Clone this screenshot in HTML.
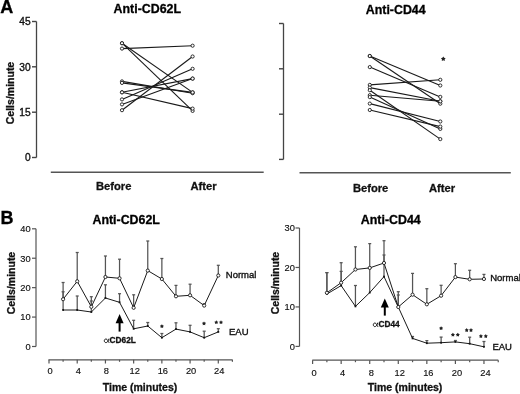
<!DOCTYPE html>
<html><head><meta charset="utf-8"><style>
html,body{margin:0;padding:0;background:#fff;}
body{width:520px;height:394px;overflow:hidden;font-family:"Liberation Sans", sans-serif;}
svg{display:block;filter:grayscale(1) blur(0.3px);}
</style></head><body>
<svg width="520" height="394" viewBox="0 0 520 394">
<rect width="520" height="394" fill="#fff"/>
<text x="0.3" y="12.6" font-family="Liberation Sans, sans-serif" font-size="18" font-weight="bold" text-anchor="start" fill="#000" stroke="#000" stroke-width="0.3" >A</text>
<text x="0.4" y="223.8" font-family="Liberation Sans, sans-serif" font-size="18" font-weight="bold" text-anchor="start" fill="#000" stroke="#000" stroke-width="0.3" >B</text>
<text x="147.3" y="12.5" font-family="Liberation Sans, sans-serif" font-size="12.4" font-weight="bold" text-anchor="middle" fill="#000" stroke="#000" stroke-width="0.3" >Anti-CD62L</text>
<line x1="36.5" y1="21.5" x2="36.5" y2="157.5" stroke="#444" stroke-width="1.3"/>
<line x1="32" y1="21.5" x2="36.5" y2="21.5" stroke="#444" stroke-width="1.4"/>
<text x="30.6" y="25.3" font-family="Liberation Sans, sans-serif" font-size="10.2" font-weight="normal" text-anchor="end" fill="#111" stroke="#111" stroke-width="0.35" >45</text>
<line x1="32" y1="66.8" x2="36.5" y2="66.8" stroke="#444" stroke-width="1.4"/>
<text x="30.6" y="70.6" font-family="Liberation Sans, sans-serif" font-size="10.2" font-weight="normal" text-anchor="end" fill="#111" stroke="#111" stroke-width="0.35" >30</text>
<line x1="32" y1="112.2" x2="36.5" y2="112.2" stroke="#444" stroke-width="1.4"/>
<text x="30.6" y="116.0" font-family="Liberation Sans, sans-serif" font-size="10.2" font-weight="normal" text-anchor="end" fill="#111" stroke="#111" stroke-width="0.35" >15</text>
<line x1="32" y1="157.5" x2="36.5" y2="157.5" stroke="#444" stroke-width="1.4"/>
<text x="30.6" y="161.3" font-family="Liberation Sans, sans-serif" font-size="10.2" font-weight="normal" text-anchor="end" fill="#111" stroke="#111" stroke-width="0.35" >0</text>
<text x="0" y="0" font-family="Liberation Sans, sans-serif" font-size="10.5" font-weight="bold" text-anchor="middle" fill="#111" stroke="#111" stroke-width="0.3" transform="translate(14.2,93) rotate(-90)">Cells/minute</text>
<line x1="50.8" y1="172.3" x2="263.7" y2="172.3" stroke="#555" stroke-width="1.4"/>
<text x="113.7" y="189.8" font-family="Liberation Sans, sans-serif" font-size="11.2" font-weight="bold" text-anchor="middle" fill="#111" stroke="#111" stroke-width="0.3" >Before</text>
<text x="203.6" y="189.8" font-family="Liberation Sans, sans-serif" font-size="11.2" font-weight="bold" text-anchor="middle" fill="#111" stroke="#111" stroke-width="0.3" >After</text>
<line x1="122" y1="48.6" x2="192.6" y2="45.7" stroke="#1a1a1a" stroke-width="1.1"/>
<line x1="122" y1="43.2" x2="192.6" y2="92.4" stroke="#1a1a1a" stroke-width="1.1"/>
<line x1="122" y1="43.2" x2="192.6" y2="110.9" stroke="#1a1a1a" stroke-width="1.1"/>
<line x1="122" y1="81.4" x2="192.6" y2="93.2" stroke="#1a1a1a" stroke-width="1.1"/>
<line x1="122" y1="82.9" x2="192.6" y2="92.4" stroke="#1a1a1a" stroke-width="1.1"/>
<line x1="122" y1="92.3" x2="192.6" y2="108.6" stroke="#1a1a1a" stroke-width="1.1"/>
<line x1="122" y1="92.3" x2="192.6" y2="78.6" stroke="#1a1a1a" stroke-width="1.1"/>
<line x1="122" y1="99.4" x2="192.6" y2="68.8" stroke="#1a1a1a" stroke-width="1.1"/>
<line x1="122" y1="104.4" x2="192.6" y2="78.6" stroke="#1a1a1a" stroke-width="1.1"/>
<line x1="122" y1="110.2" x2="192.6" y2="56.5" stroke="#1a1a1a" stroke-width="1.1"/>
<circle cx="122.00" cy="48.60" r="1.6" fill="#fff" stroke="#1a1a1a" stroke-width="0.9"/>
<circle cx="192.60" cy="45.70" r="1.6" fill="#fff" stroke="#1a1a1a" stroke-width="0.9"/>
<circle cx="122.00" cy="43.20" r="1.6" fill="#fff" stroke="#1a1a1a" stroke-width="0.9"/>
<circle cx="192.60" cy="92.40" r="1.6" fill="#fff" stroke="#1a1a1a" stroke-width="0.9"/>
<circle cx="122.00" cy="43.20" r="1.6" fill="#fff" stroke="#1a1a1a" stroke-width="0.9"/>
<circle cx="192.60" cy="110.90" r="1.6" fill="#fff" stroke="#1a1a1a" stroke-width="0.9"/>
<circle cx="122.00" cy="81.40" r="1.6" fill="#fff" stroke="#1a1a1a" stroke-width="0.9"/>
<circle cx="192.60" cy="93.20" r="1.6" fill="#fff" stroke="#1a1a1a" stroke-width="0.9"/>
<circle cx="122.00" cy="82.90" r="1.6" fill="#fff" stroke="#1a1a1a" stroke-width="0.9"/>
<circle cx="192.60" cy="92.40" r="1.6" fill="#fff" stroke="#1a1a1a" stroke-width="0.9"/>
<circle cx="122.00" cy="92.30" r="1.6" fill="#fff" stroke="#1a1a1a" stroke-width="0.9"/>
<circle cx="192.60" cy="108.60" r="1.6" fill="#fff" stroke="#1a1a1a" stroke-width="0.9"/>
<circle cx="122.00" cy="92.30" r="1.6" fill="#fff" stroke="#1a1a1a" stroke-width="0.9"/>
<circle cx="192.60" cy="78.60" r="1.6" fill="#fff" stroke="#1a1a1a" stroke-width="0.9"/>
<circle cx="122.00" cy="99.40" r="1.6" fill="#fff" stroke="#1a1a1a" stroke-width="0.9"/>
<circle cx="192.60" cy="68.80" r="1.6" fill="#fff" stroke="#1a1a1a" stroke-width="0.9"/>
<circle cx="122.00" cy="104.40" r="1.6" fill="#fff" stroke="#1a1a1a" stroke-width="0.9"/>
<circle cx="192.60" cy="78.60" r="1.6" fill="#fff" stroke="#1a1a1a" stroke-width="0.9"/>
<circle cx="122.00" cy="110.20" r="1.6" fill="#fff" stroke="#1a1a1a" stroke-width="0.9"/>
<circle cx="192.60" cy="56.50" r="1.6" fill="#fff" stroke="#1a1a1a" stroke-width="0.9"/>
<text x="395.7" y="13.7" font-family="Liberation Sans, sans-serif" font-size="12.4" font-weight="bold" text-anchor="middle" fill="#000" stroke="#000" stroke-width="0.3" >Anti-CD44</text>
<line x1="283.5" y1="23.5" x2="283.5" y2="159.4" stroke="#444" stroke-width="1.3"/>
<line x1="279" y1="23.5" x2="283.5" y2="23.5" stroke="#444" stroke-width="1.4"/>
<line x1="279" y1="68.8" x2="283.5" y2="68.8" stroke="#444" stroke-width="1.4"/>
<line x1="279" y1="114.2" x2="283.5" y2="114.2" stroke="#444" stroke-width="1.4"/>
<line x1="279" y1="159.4" x2="283.5" y2="159.4" stroke="#444" stroke-width="1.4"/>
<line x1="299.5" y1="172.7" x2="510.8" y2="172.7" stroke="#555" stroke-width="1.4"/>
<text x="370.6" y="191.7" font-family="Liberation Sans, sans-serif" font-size="11.2" font-weight="bold" text-anchor="middle" fill="#111" stroke="#111" stroke-width="0.3" >Before</text>
<text x="442.1" y="191.7" font-family="Liberation Sans, sans-serif" font-size="11.2" font-weight="bold" text-anchor="middle" fill="#111" stroke="#111" stroke-width="0.3" >After</text>
<line x1="369.8" y1="56" x2="440.3" y2="85.5" stroke="#1a1a1a" stroke-width="1.1"/>
<line x1="369.8" y1="56" x2="440.3" y2="103.7" stroke="#1a1a1a" stroke-width="1.1"/>
<line x1="369.8" y1="67.1" x2="440.3" y2="96.9" stroke="#1a1a1a" stroke-width="1.1"/>
<line x1="369.8" y1="84.9" x2="440.3" y2="79.8" stroke="#1a1a1a" stroke-width="1.1"/>
<line x1="369.8" y1="87.6" x2="440.3" y2="101.3" stroke="#1a1a1a" stroke-width="1.1"/>
<line x1="369.8" y1="90.2" x2="440.3" y2="139.1" stroke="#1a1a1a" stroke-width="1.1"/>
<line x1="369.8" y1="95.2" x2="440.3" y2="101.3" stroke="#1a1a1a" stroke-width="1.1"/>
<line x1="369.8" y1="97.1" x2="440.3" y2="128.9" stroke="#1a1a1a" stroke-width="1.1"/>
<line x1="369.8" y1="103.6" x2="440.3" y2="121.5" stroke="#1a1a1a" stroke-width="1.1"/>
<line x1="369.8" y1="110" x2="440.3" y2="126.6" stroke="#1a1a1a" stroke-width="1.1"/>
<circle cx="369.80" cy="56.00" r="1.6" fill="#fff" stroke="#1a1a1a" stroke-width="0.9"/>
<circle cx="440.30" cy="85.50" r="1.6" fill="#fff" stroke="#1a1a1a" stroke-width="0.9"/>
<circle cx="369.80" cy="56.00" r="1.6" fill="#fff" stroke="#1a1a1a" stroke-width="0.9"/>
<circle cx="440.30" cy="103.70" r="1.6" fill="#fff" stroke="#1a1a1a" stroke-width="0.9"/>
<circle cx="369.80" cy="67.10" r="1.6" fill="#fff" stroke="#1a1a1a" stroke-width="0.9"/>
<circle cx="440.30" cy="96.90" r="1.6" fill="#fff" stroke="#1a1a1a" stroke-width="0.9"/>
<circle cx="369.80" cy="84.90" r="1.6" fill="#fff" stroke="#1a1a1a" stroke-width="0.9"/>
<circle cx="440.30" cy="79.80" r="1.6" fill="#fff" stroke="#1a1a1a" stroke-width="0.9"/>
<circle cx="369.80" cy="87.60" r="1.6" fill="#fff" stroke="#1a1a1a" stroke-width="0.9"/>
<circle cx="440.30" cy="101.30" r="1.6" fill="#fff" stroke="#1a1a1a" stroke-width="0.9"/>
<circle cx="369.80" cy="90.20" r="1.6" fill="#fff" stroke="#1a1a1a" stroke-width="0.9"/>
<circle cx="440.30" cy="139.10" r="1.6" fill="#fff" stroke="#1a1a1a" stroke-width="0.9"/>
<circle cx="369.80" cy="95.20" r="1.6" fill="#fff" stroke="#1a1a1a" stroke-width="0.9"/>
<circle cx="440.30" cy="101.30" r="1.6" fill="#fff" stroke="#1a1a1a" stroke-width="0.9"/>
<circle cx="369.80" cy="97.10" r="1.6" fill="#fff" stroke="#1a1a1a" stroke-width="0.9"/>
<circle cx="440.30" cy="128.90" r="1.6" fill="#fff" stroke="#1a1a1a" stroke-width="0.9"/>
<circle cx="369.80" cy="103.60" r="1.6" fill="#fff" stroke="#1a1a1a" stroke-width="0.9"/>
<circle cx="440.30" cy="121.50" r="1.6" fill="#fff" stroke="#1a1a1a" stroke-width="0.9"/>
<circle cx="369.80" cy="110.00" r="1.6" fill="#fff" stroke="#1a1a1a" stroke-width="0.9"/>
<circle cx="440.30" cy="126.60" r="1.6" fill="#fff" stroke="#1a1a1a" stroke-width="0.9"/>
<polygon points="443.30,56.40 444.15,57.73 445.68,58.13 444.68,59.35 444.77,60.92 443.30,60.35 441.83,60.92 441.92,59.35 440.92,58.13 442.45,57.73" fill="#222"/>
<text x="126.2" y="223.8" font-family="Liberation Sans, sans-serif" font-size="12.4" font-weight="bold" text-anchor="middle" fill="#000" stroke="#000" stroke-width="0.3" >Anti-CD62L</text>
<line x1="36" y1="228.8" x2="36" y2="346.5" stroke="#555" stroke-width="1.2"/>
<line x1="32" y1="346.5" x2="36" y2="346.5" stroke="#555" stroke-width="1.2"/>
<text x="30.6" y="349.8" font-family="Liberation Sans, sans-serif" font-size="9.3" font-weight="normal" text-anchor="end" fill="#111" stroke="#111" stroke-width="0.15" >0</text>
<line x1="32" y1="317.075" x2="36" y2="317.075" stroke="#555" stroke-width="1.2"/>
<text x="30.6" y="320.375" font-family="Liberation Sans, sans-serif" font-size="9.3" font-weight="normal" text-anchor="end" fill="#111" stroke="#111" stroke-width="0.15" >10</text>
<line x1="32" y1="287.65" x2="36" y2="287.65" stroke="#555" stroke-width="1.2"/>
<text x="30.6" y="290.95" font-family="Liberation Sans, sans-serif" font-size="9.3" font-weight="normal" text-anchor="end" fill="#111" stroke="#111" stroke-width="0.15" >20</text>
<line x1="32" y1="258.225" x2="36" y2="258.225" stroke="#555" stroke-width="1.2"/>
<text x="30.6" y="261.52500000000003" font-family="Liberation Sans, sans-serif" font-size="9.3" font-weight="normal" text-anchor="end" fill="#111" stroke="#111" stroke-width="0.15" >30</text>
<line x1="32" y1="228.8" x2="36" y2="228.8" stroke="#555" stroke-width="1.2"/>
<text x="30.6" y="232.10000000000002" font-family="Liberation Sans, sans-serif" font-size="9.3" font-weight="normal" text-anchor="end" fill="#111" stroke="#111" stroke-width="0.15" >40</text>
<text x="0" y="0" font-family="Liberation Sans, sans-serif" font-size="10.5" font-weight="bold" text-anchor="middle" fill="#111" stroke="#111" stroke-width="0.3" transform="translate(15.2,283) rotate(-90)">Cells/minute</text>
<line x1="48.5" y1="359.8" x2="232.6" y2="359.8" stroke="#555" stroke-width="1.2"/>
<line x1="49.0" y1="359.8" x2="49.0" y2="363.5" stroke="#555" stroke-width="1.2"/>
<text x="50.0" y="373.9" font-family="Liberation Sans, sans-serif" font-size="9.3" font-weight="normal" text-anchor="middle" fill="#111" stroke="#111" stroke-width="0.15" >0</text>
<line x1="63.108000000000004" y1="359.8" x2="63.108000000000004" y2="361.8" stroke="#555" stroke-width="1.2"/>
<line x1="77.21600000000001" y1="359.8" x2="77.21600000000001" y2="363.5" stroke="#555" stroke-width="1.2"/>
<text x="78.21600000000001" y="373.9" font-family="Liberation Sans, sans-serif" font-size="9.3" font-weight="normal" text-anchor="middle" fill="#111" stroke="#111" stroke-width="0.15" >4</text>
<line x1="91.324" y1="359.8" x2="91.324" y2="361.8" stroke="#555" stroke-width="1.2"/>
<line x1="105.432" y1="359.8" x2="105.432" y2="363.5" stroke="#555" stroke-width="1.2"/>
<text x="106.432" y="373.9" font-family="Liberation Sans, sans-serif" font-size="9.3" font-weight="normal" text-anchor="middle" fill="#111" stroke="#111" stroke-width="0.15" >8</text>
<line x1="119.54" y1="359.8" x2="119.54" y2="361.8" stroke="#555" stroke-width="1.2"/>
<line x1="133.648" y1="359.8" x2="133.648" y2="363.5" stroke="#555" stroke-width="1.2"/>
<text x="134.648" y="373.9" font-family="Liberation Sans, sans-serif" font-size="9.3" font-weight="normal" text-anchor="middle" fill="#111" stroke="#111" stroke-width="0.15" >12</text>
<line x1="147.756" y1="359.8" x2="147.756" y2="361.8" stroke="#555" stroke-width="1.2"/>
<line x1="161.864" y1="359.8" x2="161.864" y2="363.5" stroke="#555" stroke-width="1.2"/>
<text x="162.864" y="373.9" font-family="Liberation Sans, sans-serif" font-size="9.3" font-weight="normal" text-anchor="middle" fill="#111" stroke="#111" stroke-width="0.15" >16</text>
<line x1="175.972" y1="359.8" x2="175.972" y2="361.8" stroke="#555" stroke-width="1.2"/>
<line x1="190.08" y1="359.8" x2="190.08" y2="363.5" stroke="#555" stroke-width="1.2"/>
<text x="191.08" y="373.9" font-family="Liberation Sans, sans-serif" font-size="9.3" font-weight="normal" text-anchor="middle" fill="#111" stroke="#111" stroke-width="0.15" >20</text>
<line x1="204.18800000000002" y1="359.8" x2="204.18800000000002" y2="361.8" stroke="#555" stroke-width="1.2"/>
<line x1="218.296" y1="359.8" x2="218.296" y2="363.5" stroke="#555" stroke-width="1.2"/>
<text x="219.296" y="373.9" font-family="Liberation Sans, sans-serif" font-size="9.3" font-weight="normal" text-anchor="middle" fill="#111" stroke="#111" stroke-width="0.15" >24</text>
<line x1="232.404" y1="359.8" x2="232.404" y2="361.8" stroke="#555" stroke-width="1.2"/>
<text x="140" y="391.1" font-family="Liberation Sans, sans-serif" font-size="10.5" font-weight="bold" text-anchor="middle" fill="#111" stroke="#111" stroke-width="0.3" >Time (minutes)</text>
<line x1="63.108000000000004" y1="299.2" x2="63.108000000000004" y2="282.5" stroke="#555" stroke-width="1.25"/>
<line x1="61.608000000000004" y1="282.5" x2="64.608" y2="282.5" stroke="#555" stroke-width="1.25"/>
<line x1="77.21600000000001" y1="281.3" x2="77.21600000000001" y2="252.5" stroke="#555" stroke-width="1.25"/>
<line x1="75.71600000000001" y1="252.5" x2="78.71600000000001" y2="252.5" stroke="#555" stroke-width="1.25"/>
<line x1="91.324" y1="306.8" x2="91.324" y2="296.7" stroke="#555" stroke-width="1.25"/>
<line x1="89.824" y1="296.7" x2="92.824" y2="296.7" stroke="#555" stroke-width="1.25"/>
<line x1="105.432" y1="277" x2="105.432" y2="256" stroke="#555" stroke-width="1.25"/>
<line x1="103.932" y1="256" x2="106.932" y2="256" stroke="#555" stroke-width="1.25"/>
<line x1="119.54" y1="278.3" x2="119.54" y2="259.2" stroke="#555" stroke-width="1.25"/>
<line x1="118.04" y1="259.2" x2="121.04" y2="259.2" stroke="#555" stroke-width="1.25"/>
<line x1="133.648" y1="307.8" x2="133.648" y2="294.8" stroke="#555" stroke-width="1.25"/>
<line x1="132.148" y1="294.8" x2="135.148" y2="294.8" stroke="#555" stroke-width="1.25"/>
<line x1="147.756" y1="270.6" x2="147.756" y2="241" stroke="#555" stroke-width="1.25"/>
<line x1="146.256" y1="241" x2="149.256" y2="241" stroke="#555" stroke-width="1.25"/>
<line x1="161.864" y1="279" x2="161.864" y2="258.5" stroke="#555" stroke-width="1.25"/>
<line x1="160.364" y1="258.5" x2="163.364" y2="258.5" stroke="#555" stroke-width="1.25"/>
<line x1="175.972" y1="296.3" x2="175.972" y2="285.4" stroke="#555" stroke-width="1.25"/>
<line x1="174.472" y1="285.4" x2="177.472" y2="285.4" stroke="#555" stroke-width="1.25"/>
<line x1="190.08" y1="295.3" x2="190.08" y2="284.2" stroke="#555" stroke-width="1.25"/>
<line x1="188.58" y1="284.2" x2="191.58" y2="284.2" stroke="#555" stroke-width="1.25"/>
<line x1="204.18800000000002" y1="305.6" x2="204.18800000000002" y2="303.8" stroke="#555" stroke-width="1.25"/>
<line x1="202.68800000000002" y1="303.8" x2="205.68800000000002" y2="303.8" stroke="#555" stroke-width="1.25"/>
<line x1="218.296" y1="275.5" x2="218.296" y2="265.3" stroke="#555" stroke-width="1.25"/>
<line x1="216.796" y1="265.3" x2="219.796" y2="265.3" stroke="#555" stroke-width="1.25"/>
<line x1="63.108000000000004" y1="310" x2="63.108000000000004" y2="291.8" stroke="#555" stroke-width="1.25"/>
<line x1="61.608000000000004" y1="291.8" x2="64.608" y2="291.8" stroke="#555" stroke-width="1.25"/>
<line x1="77.21600000000001" y1="310" x2="77.21600000000001" y2="296" stroke="#555" stroke-width="1.25"/>
<line x1="75.71600000000001" y1="296" x2="78.71600000000001" y2="296" stroke="#555" stroke-width="1.25"/>
<line x1="91.324" y1="312" x2="91.324" y2="301" stroke="#555" stroke-width="1.25"/>
<line x1="89.824" y1="301" x2="92.824" y2="301" stroke="#555" stroke-width="1.25"/>
<line x1="105.432" y1="298" x2="105.432" y2="284.8" stroke="#555" stroke-width="1.25"/>
<line x1="103.932" y1="284.8" x2="106.932" y2="284.8" stroke="#555" stroke-width="1.25"/>
<line x1="119.54" y1="302.3" x2="119.54" y2="293.7" stroke="#555" stroke-width="1.25"/>
<line x1="118.04" y1="293.7" x2="121.04" y2="293.7" stroke="#555" stroke-width="1.25"/>
<line x1="133.648" y1="328.8" x2="133.648" y2="320.3" stroke="#555" stroke-width="1.25"/>
<line x1="132.148" y1="320.3" x2="135.148" y2="320.3" stroke="#555" stroke-width="1.25"/>
<line x1="147.756" y1="326" x2="147.756" y2="322.5" stroke="#555" stroke-width="1.25"/>
<line x1="146.256" y1="322.5" x2="149.256" y2="322.5" stroke="#555" stroke-width="1.25"/>
<line x1="161.864" y1="337.7" x2="161.864" y2="333.5" stroke="#555" stroke-width="1.25"/>
<line x1="160.364" y1="333.5" x2="163.364" y2="333.5" stroke="#555" stroke-width="1.25"/>
<line x1="175.972" y1="329.1" x2="175.972" y2="322.8" stroke="#555" stroke-width="1.25"/>
<line x1="174.472" y1="322.8" x2="177.472" y2="322.8" stroke="#555" stroke-width="1.25"/>
<line x1="190.08" y1="331.9" x2="190.08" y2="325.3" stroke="#555" stroke-width="1.25"/>
<line x1="188.58" y1="325.3" x2="191.58" y2="325.3" stroke="#555" stroke-width="1.25"/>
<line x1="204.18800000000002" y1="337.7" x2="204.18800000000002" y2="331.2" stroke="#555" stroke-width="1.25"/>
<line x1="202.68800000000002" y1="331.2" x2="205.68800000000002" y2="331.2" stroke="#555" stroke-width="1.25"/>
<line x1="218.296" y1="331.9" x2="218.296" y2="328.7" stroke="#555" stroke-width="1.25"/>
<line x1="216.796" y1="328.7" x2="219.796" y2="328.7" stroke="#555" stroke-width="1.25"/>
<polyline points="63.11,310.00 77.22,310.00 91.32,312.00 105.43,298.00 119.54,302.30 133.65,328.80 147.76,326.00 161.86,337.70 175.97,329.10 190.08,331.90 204.19,337.70 218.30,331.90" fill="none" stroke="#1a1a1a" stroke-width="1" stroke-linejoin="round"/>
<polyline points="63.11,299.20 77.22,281.30 91.32,306.80 105.43,277.00 119.54,278.30 133.65,307.80 147.76,270.60 161.86,279.00 175.97,296.30 190.08,295.30 204.19,305.60 218.30,275.50" fill="none" stroke="#1a1a1a" stroke-width="1" stroke-linejoin="round"/>
<rect x="62.21" y="309.10" width="1.8" height="1.8" fill="#111"/>
<rect x="76.32" y="309.10" width="1.8" height="1.8" fill="#111"/>
<rect x="90.42" y="311.10" width="1.8" height="1.8" fill="#111"/>
<rect x="104.53" y="297.10" width="1.8" height="1.8" fill="#111"/>
<rect x="118.64" y="301.40" width="1.8" height="1.8" fill="#111"/>
<rect x="132.75" y="327.90" width="1.8" height="1.8" fill="#111"/>
<rect x="146.86" y="325.10" width="1.8" height="1.8" fill="#111"/>
<rect x="160.96" y="336.80" width="1.8" height="1.8" fill="#111"/>
<rect x="175.07" y="328.20" width="1.8" height="1.8" fill="#111"/>
<rect x="189.18" y="331.00" width="1.8" height="1.8" fill="#111"/>
<rect x="203.29" y="336.80" width="1.8" height="1.8" fill="#111"/>
<rect x="217.40" y="331.00" width="1.8" height="1.8" fill="#111"/>
<circle cx="63.11" cy="299.20" r="1.6" fill="#fff" stroke="#1a1a1a" stroke-width="0.9"/>
<circle cx="77.22" cy="281.30" r="1.6" fill="#fff" stroke="#1a1a1a" stroke-width="0.9"/>
<circle cx="91.32" cy="306.80" r="1.6" fill="#fff" stroke="#1a1a1a" stroke-width="0.9"/>
<circle cx="105.43" cy="277.00" r="1.6" fill="#fff" stroke="#1a1a1a" stroke-width="0.9"/>
<circle cx="119.54" cy="278.30" r="1.6" fill="#fff" stroke="#1a1a1a" stroke-width="0.9"/>
<circle cx="133.65" cy="307.80" r="1.6" fill="#fff" stroke="#1a1a1a" stroke-width="0.9"/>
<circle cx="147.76" cy="270.60" r="1.6" fill="#fff" stroke="#1a1a1a" stroke-width="0.9"/>
<circle cx="161.86" cy="279.00" r="1.6" fill="#fff" stroke="#1a1a1a" stroke-width="0.9"/>
<circle cx="175.97" cy="296.30" r="1.6" fill="#fff" stroke="#1a1a1a" stroke-width="0.9"/>
<circle cx="190.08" cy="295.30" r="1.6" fill="#fff" stroke="#1a1a1a" stroke-width="0.9"/>
<circle cx="204.19" cy="305.60" r="1.6" fill="#fff" stroke="#1a1a1a" stroke-width="0.9"/>
<circle cx="218.30" cy="275.50" r="1.6" fill="#fff" stroke="#1a1a1a" stroke-width="0.9"/>
<polygon points="161.90,324.20 162.62,325.31 163.90,325.65 163.06,326.68 163.13,328.00 161.90,327.52 160.67,328.00 160.74,326.68 159.90,325.65 161.18,325.31" fill="#222"/>
<polygon points="204.00,321.40 204.72,322.51 206.00,322.85 205.16,323.88 205.23,325.20 204.00,324.72 202.77,325.20 202.84,323.88 202.00,322.85 203.28,322.51" fill="#222"/>
<polygon points="216.30,320.30 217.02,321.41 218.30,321.75 217.46,322.78 217.53,324.10 216.30,323.62 215.07,324.10 215.14,322.78 214.30,321.75 215.58,321.41" fill="#222"/>
<polygon points="221.00,320.30 221.72,321.41 223.00,321.75 222.16,322.78 222.23,324.10 221.00,323.62 219.77,324.10 219.84,322.78 219.00,321.75 220.28,321.41" fill="#222"/>
<polygon points="119.6,313.9 115.6,323.3 123.6,323.3" fill="#000"/>
<line x1="119.6" y1="322" x2="119.6" y2="331.6" stroke="#000" stroke-width="2.0"/>
<path d="M108.90,339.00 C108.21,341.52 107.06,342.60 105.96,342.60 C104.85,342.60 104.30,341.70 104.30,340.73 C104.30,339.65 105.04,339.00 106.14,339.00 C107.43,339.00 107.98,341.52 108.99,342.60" fill="none" stroke="#111" stroke-width="0.95" stroke-linecap="round"/>
<text x="109.6" y="342.8" font-family="Liberation Sans, sans-serif" font-size="8.3" font-weight="bold" text-anchor="start" fill="#111" stroke="#111" stroke-width="0.3" >CD62L</text>
<text x="225.8" y="278.1" font-family="Liberation Sans, sans-serif" font-size="9.5" font-weight="normal" text-anchor="start" fill="#111" stroke="#111" stroke-width="0.35" >Normal</text>
<text x="229" y="335" font-family="Liberation Sans, sans-serif" font-size="9.5" font-weight="normal" text-anchor="start" fill="#111" stroke="#111" stroke-width="0.35" >EAU</text>
<text x="390.8" y="223.5" font-family="Liberation Sans, sans-serif" font-size="12.4" font-weight="bold" text-anchor="middle" fill="#000" stroke="#000" stroke-width="0.3" >Anti-CD44</text>
<line x1="299.5" y1="228" x2="299.5" y2="346.4" stroke="#555" stroke-width="1.2"/>
<line x1="295.5" y1="346.4" x2="299.5" y2="346.4" stroke="#555" stroke-width="1.2"/>
<text x="294.9" y="349.7" font-family="Liberation Sans, sans-serif" font-size="9.3" font-weight="normal" text-anchor="end" fill="#111" stroke="#111" stroke-width="0.15" >0</text>
<line x1="295.5" y1="306.92999999999995" x2="299.5" y2="306.92999999999995" stroke="#555" stroke-width="1.2"/>
<text x="294.9" y="310.22999999999996" font-family="Liberation Sans, sans-serif" font-size="9.3" font-weight="normal" text-anchor="end" fill="#111" stroke="#111" stroke-width="0.15" >10</text>
<line x1="295.5" y1="267.46" x2="299.5" y2="267.46" stroke="#555" stroke-width="1.2"/>
<text x="294.9" y="270.76" font-family="Liberation Sans, sans-serif" font-size="9.3" font-weight="normal" text-anchor="end" fill="#111" stroke="#111" stroke-width="0.15" >20</text>
<line x1="295.5" y1="227.98999999999998" x2="299.5" y2="227.98999999999998" stroke="#555" stroke-width="1.2"/>
<text x="294.9" y="231.29" font-family="Liberation Sans, sans-serif" font-size="9.3" font-weight="normal" text-anchor="end" fill="#111" stroke="#111" stroke-width="0.15" >30</text>
<text x="0" y="0" font-family="Liberation Sans, sans-serif" font-size="10.5" font-weight="bold" text-anchor="middle" fill="#111" stroke="#111" stroke-width="0.3" transform="translate(278.6,283) rotate(-90)">Cells/minute</text>
<line x1="312.3" y1="360.2" x2="498.3" y2="360.2" stroke="#555" stroke-width="1.2"/>
<line x1="312.6" y1="360.2" x2="312.6" y2="363.9" stroke="#555" stroke-width="1.2"/>
<text x="314.1" y="375.9" font-family="Liberation Sans, sans-serif" font-size="9.3" font-weight="normal" text-anchor="middle" fill="#111" stroke="#111" stroke-width="0.15" >0</text>
<line x1="326.88" y1="360.2" x2="326.88" y2="362.2" stroke="#555" stroke-width="1.2"/>
<line x1="341.16" y1="360.2" x2="341.16" y2="363.9" stroke="#555" stroke-width="1.2"/>
<text x="342.66" y="375.9" font-family="Liberation Sans, sans-serif" font-size="9.3" font-weight="normal" text-anchor="middle" fill="#111" stroke="#111" stroke-width="0.15" >4</text>
<line x1="355.44" y1="360.2" x2="355.44" y2="362.2" stroke="#555" stroke-width="1.2"/>
<line x1="369.72" y1="360.2" x2="369.72" y2="363.9" stroke="#555" stroke-width="1.2"/>
<text x="371.22" y="375.9" font-family="Liberation Sans, sans-serif" font-size="9.3" font-weight="normal" text-anchor="middle" fill="#111" stroke="#111" stroke-width="0.15" >8</text>
<line x1="384.0" y1="360.2" x2="384.0" y2="362.2" stroke="#555" stroke-width="1.2"/>
<line x1="398.28000000000003" y1="360.2" x2="398.28000000000003" y2="363.9" stroke="#555" stroke-width="1.2"/>
<text x="399.78000000000003" y="375.9" font-family="Liberation Sans, sans-serif" font-size="9.3" font-weight="normal" text-anchor="middle" fill="#111" stroke="#111" stroke-width="0.15" >12</text>
<line x1="412.56" y1="360.2" x2="412.56" y2="362.2" stroke="#555" stroke-width="1.2"/>
<line x1="426.84000000000003" y1="360.2" x2="426.84000000000003" y2="363.9" stroke="#555" stroke-width="1.2"/>
<text x="428.34000000000003" y="375.9" font-family="Liberation Sans, sans-serif" font-size="9.3" font-weight="normal" text-anchor="middle" fill="#111" stroke="#111" stroke-width="0.15" >16</text>
<line x1="441.12" y1="360.2" x2="441.12" y2="362.2" stroke="#555" stroke-width="1.2"/>
<line x1="455.4" y1="360.2" x2="455.4" y2="363.9" stroke="#555" stroke-width="1.2"/>
<text x="456.9" y="375.9" font-family="Liberation Sans, sans-serif" font-size="9.3" font-weight="normal" text-anchor="middle" fill="#111" stroke="#111" stroke-width="0.15" >20</text>
<line x1="469.68" y1="360.2" x2="469.68" y2="362.2" stroke="#555" stroke-width="1.2"/>
<line x1="483.96000000000004" y1="360.2" x2="483.96000000000004" y2="363.9" stroke="#555" stroke-width="1.2"/>
<text x="485.46000000000004" y="375.9" font-family="Liberation Sans, sans-serif" font-size="9.3" font-weight="normal" text-anchor="middle" fill="#111" stroke="#111" stroke-width="0.15" >24</text>
<line x1="498.24" y1="360.2" x2="498.24" y2="362.2" stroke="#555" stroke-width="1.2"/>
<text x="405.1" y="391.1" font-family="Liberation Sans, sans-serif" font-size="10.5" font-weight="bold" text-anchor="middle" fill="#111" stroke="#111" stroke-width="0.3" >Time (minutes)</text>
<line x1="326.88" y1="292.8" x2="326.88" y2="272.6" stroke="#555" stroke-width="1.25"/>
<line x1="325.38" y1="272.6" x2="328.38" y2="272.6" stroke="#555" stroke-width="1.25"/>
<line x1="341.16" y1="282.7" x2="341.16" y2="262.7" stroke="#555" stroke-width="1.25"/>
<line x1="339.66" y1="262.7" x2="342.66" y2="262.7" stroke="#555" stroke-width="1.25"/>
<line x1="355.44" y1="269.5" x2="355.44" y2="246.8" stroke="#555" stroke-width="1.25"/>
<line x1="353.94" y1="246.8" x2="356.94" y2="246.8" stroke="#555" stroke-width="1.25"/>
<line x1="369.72" y1="267.9" x2="369.72" y2="243.6" stroke="#555" stroke-width="1.25"/>
<line x1="368.22" y1="243.6" x2="371.22" y2="243.6" stroke="#555" stroke-width="1.25"/>
<line x1="384.0" y1="263" x2="384.0" y2="240.7" stroke="#555" stroke-width="1.25"/>
<line x1="382.5" y1="240.7" x2="385.5" y2="240.7" stroke="#555" stroke-width="1.25"/>
<line x1="398.28000000000003" y1="307" x2="398.28000000000003" y2="291.7" stroke="#555" stroke-width="1.25"/>
<line x1="396.78000000000003" y1="291.7" x2="399.78000000000003" y2="291.7" stroke="#555" stroke-width="1.25"/>
<line x1="412.56" y1="294.7" x2="412.56" y2="273.4" stroke="#555" stroke-width="1.25"/>
<line x1="411.06" y1="273.4" x2="414.06" y2="273.4" stroke="#555" stroke-width="1.25"/>
<line x1="426.84000000000003" y1="304.3" x2="426.84000000000003" y2="288.7" stroke="#555" stroke-width="1.25"/>
<line x1="425.34000000000003" y1="288.7" x2="428.34000000000003" y2="288.7" stroke="#555" stroke-width="1.25"/>
<line x1="441.12" y1="295.7" x2="441.12" y2="285.3" stroke="#555" stroke-width="1.25"/>
<line x1="439.62" y1="285.3" x2="442.62" y2="285.3" stroke="#555" stroke-width="1.25"/>
<line x1="455.4" y1="277.1" x2="455.4" y2="263.7" stroke="#555" stroke-width="1.25"/>
<line x1="453.9" y1="263.7" x2="456.9" y2="263.7" stroke="#555" stroke-width="1.25"/>
<line x1="469.68" y1="279.3" x2="469.68" y2="270.3" stroke="#555" stroke-width="1.25"/>
<line x1="468.18" y1="270.3" x2="471.18" y2="270.3" stroke="#555" stroke-width="1.25"/>
<line x1="483.96000000000004" y1="279" x2="483.96000000000004" y2="274.4" stroke="#555" stroke-width="1.25"/>
<line x1="482.46000000000004" y1="274.4" x2="485.46000000000004" y2="274.4" stroke="#555" stroke-width="1.25"/>
<line x1="326.88" y1="294" x2="326.88" y2="272.6" stroke="#555" stroke-width="1.25"/>
<line x1="325.38" y1="272.6" x2="328.38" y2="272.6" stroke="#555" stroke-width="1.25"/>
<line x1="341.16" y1="285.6" x2="341.16" y2="271.4" stroke="#555" stroke-width="1.25"/>
<line x1="339.66" y1="271.4" x2="342.66" y2="271.4" stroke="#555" stroke-width="1.25"/>
<line x1="355.44" y1="306.4" x2="355.44" y2="285.5" stroke="#555" stroke-width="1.25"/>
<line x1="353.94" y1="285.5" x2="356.94" y2="285.5" stroke="#555" stroke-width="1.25"/>
<line x1="369.72" y1="292.6" x2="369.72" y2="268" stroke="#555" stroke-width="1.25"/>
<line x1="368.22" y1="268" x2="371.22" y2="268" stroke="#555" stroke-width="1.25"/>
<line x1="384.0" y1="276.6" x2="384.0" y2="255" stroke="#555" stroke-width="1.25"/>
<line x1="382.5" y1="255" x2="385.5" y2="255" stroke="#555" stroke-width="1.25"/>
<line x1="398.28000000000003" y1="307" x2="398.28000000000003" y2="295" stroke="#555" stroke-width="1.25"/>
<line x1="396.78000000000003" y1="295" x2="399.78000000000003" y2="295" stroke="#555" stroke-width="1.25"/>
<line x1="412.56" y1="338.4" x2="412.56" y2="336.5" stroke="#555" stroke-width="1.25"/>
<line x1="411.06" y1="336.5" x2="414.06" y2="336.5" stroke="#555" stroke-width="1.25"/>
<line x1="426.84000000000003" y1="343.2" x2="426.84000000000003" y2="340.6" stroke="#555" stroke-width="1.25"/>
<line x1="425.34000000000003" y1="340.6" x2="428.34000000000003" y2="340.6" stroke="#555" stroke-width="1.25"/>
<line x1="441.12" y1="342.7" x2="441.12" y2="337.1" stroke="#555" stroke-width="1.25"/>
<line x1="439.62" y1="337.1" x2="442.62" y2="337.1" stroke="#555" stroke-width="1.25"/>
<line x1="455.4" y1="341.9" x2="455.4" y2="340.5" stroke="#555" stroke-width="1.25"/>
<line x1="453.9" y1="340.5" x2="456.9" y2="340.5" stroke="#555" stroke-width="1.25"/>
<line x1="469.68" y1="343.7" x2="469.68" y2="337.2" stroke="#555" stroke-width="1.25"/>
<line x1="468.18" y1="337.2" x2="471.18" y2="337.2" stroke="#555" stroke-width="1.25"/>
<line x1="483.96000000000004" y1="346.8" x2="483.96000000000004" y2="341.5" stroke="#555" stroke-width="1.25"/>
<line x1="482.46000000000004" y1="341.5" x2="485.46000000000004" y2="341.5" stroke="#555" stroke-width="1.25"/>
<polyline points="326.88,294.00 341.16,285.60 355.44,306.40 369.72,292.60 384.00,276.60 398.28,307.00 412.56,338.40 426.84,343.20 441.12,342.70 455.40,341.90 469.68,343.70 483.96,346.80" fill="none" stroke="#1a1a1a" stroke-width="1" stroke-linejoin="round"/>
<polyline points="326.88,292.80 341.16,282.70 355.44,269.50 369.72,267.90 384.00,263.00 398.28,307.00 412.56,294.70 426.84,304.30 441.12,295.70 455.40,277.10 469.68,279.30 483.96,279.00" fill="none" stroke="#1a1a1a" stroke-width="1" stroke-linejoin="round"/>
<rect x="325.98" y="293.10" width="1.8" height="1.8" fill="#111"/>
<rect x="340.26" y="284.70" width="1.8" height="1.8" fill="#111"/>
<rect x="354.54" y="305.50" width="1.8" height="1.8" fill="#111"/>
<rect x="368.82" y="291.70" width="1.8" height="1.8" fill="#111"/>
<rect x="383.10" y="275.70" width="1.8" height="1.8" fill="#111"/>
<rect x="397.38" y="306.10" width="1.8" height="1.8" fill="#111"/>
<rect x="411.66" y="337.50" width="1.8" height="1.8" fill="#111"/>
<rect x="425.94" y="342.30" width="1.8" height="1.8" fill="#111"/>
<rect x="440.22" y="341.80" width="1.8" height="1.8" fill="#111"/>
<rect x="454.50" y="341.00" width="1.8" height="1.8" fill="#111"/>
<rect x="468.78" y="342.80" width="1.8" height="1.8" fill="#111"/>
<rect x="483.06" y="345.90" width="1.8" height="1.8" fill="#111"/>
<circle cx="326.88" cy="292.80" r="1.6" fill="#fff" stroke="#1a1a1a" stroke-width="0.9"/>
<circle cx="341.16" cy="282.70" r="1.6" fill="#fff" stroke="#1a1a1a" stroke-width="0.9"/>
<circle cx="355.44" cy="269.50" r="1.6" fill="#fff" stroke="#1a1a1a" stroke-width="0.9"/>
<circle cx="369.72" cy="267.90" r="1.6" fill="#fff" stroke="#1a1a1a" stroke-width="0.9"/>
<circle cx="384.00" cy="263.00" r="1.6" fill="#fff" stroke="#1a1a1a" stroke-width="0.9"/>
<circle cx="398.28" cy="307.00" r="1.6" fill="#fff" stroke="#1a1a1a" stroke-width="0.9"/>
<circle cx="412.56" cy="294.70" r="1.6" fill="#fff" stroke="#1a1a1a" stroke-width="0.9"/>
<circle cx="426.84" cy="304.30" r="1.6" fill="#fff" stroke="#1a1a1a" stroke-width="0.9"/>
<circle cx="441.12" cy="295.70" r="1.6" fill="#fff" stroke="#1a1a1a" stroke-width="0.9"/>
<circle cx="455.40" cy="277.10" r="1.6" fill="#fff" stroke="#1a1a1a" stroke-width="0.9"/>
<circle cx="469.68" cy="279.30" r="1.6" fill="#fff" stroke="#1a1a1a" stroke-width="0.9"/>
<circle cx="483.96" cy="279.00" r="1.6" fill="#fff" stroke="#1a1a1a" stroke-width="0.9"/>
<polygon points="441.10,326.20 441.82,327.31 443.10,327.65 442.26,328.68 442.33,330.00 441.10,329.52 439.87,330.00 439.94,328.68 439.10,327.65 440.38,327.31" fill="#222"/>
<polygon points="452.90,332.70 453.62,333.81 454.90,334.15 454.06,335.18 454.13,336.50 452.90,336.02 451.67,336.50 451.74,335.18 450.90,334.15 452.18,333.81" fill="#222"/>
<polygon points="457.80,332.70 458.52,333.81 459.80,334.15 458.96,335.18 459.03,336.50 457.80,336.02 456.57,336.50 456.64,335.18 455.80,334.15 457.08,333.81" fill="#222"/>
<polygon points="466.70,328.10 467.42,329.21 468.70,329.55 467.86,330.58 467.93,331.90 466.70,331.42 465.47,331.90 465.54,330.58 464.70,329.55 465.98,329.21" fill="#222"/>
<polygon points="471.00,328.10 471.72,329.21 473.00,329.55 472.16,330.58 472.23,331.90 471.00,331.42 469.77,331.90 469.84,330.58 469.00,329.55 470.28,329.21" fill="#222"/>
<polygon points="480.90,334.10 481.62,335.21 482.90,335.55 482.06,336.58 482.13,337.90 480.90,337.42 479.67,337.90 479.74,336.58 478.90,335.55 480.18,335.21" fill="#222"/>
<polygon points="485.80,334.10 486.52,335.21 487.80,335.55 486.96,336.58 487.03,337.90 485.80,337.42 484.57,337.90 484.64,336.58 483.80,335.55 485.08,335.21" fill="#222"/>
<polygon points="384.8,298.4 380.8,307.5 388.8,307.5" fill="#000"/>
<line x1="384.8" y1="306" x2="384.8" y2="315.6" stroke="#000" stroke-width="2.0"/>
<path d="M377.70,323.00 C377.04,325.52 375.94,326.60 374.88,326.60 C373.83,326.60 373.30,325.70 373.30,324.73 C373.30,323.65 374.00,323.00 375.06,323.00 C376.29,323.00 376.82,325.52 377.79,326.60" fill="none" stroke="#111" stroke-width="0.95" stroke-linecap="round"/>
<text x="378.5" y="326.9" font-family="Liberation Sans, sans-serif" font-size="8.3" font-weight="bold" text-anchor="start" fill="#111" stroke="#111" stroke-width="0.3" >CD44</text>
<text x="490.2" y="280.8" font-family="Liberation Sans, sans-serif" font-size="9.5" font-weight="normal" text-anchor="start" fill="#111" stroke="#111" stroke-width="0.35" >Normal</text>
<text x="492.4" y="349.6" font-family="Liberation Sans, sans-serif" font-size="9.5" font-weight="normal" text-anchor="start" fill="#111" stroke="#111" stroke-width="0.35" >EAU</text>
</svg>
</body></html>
